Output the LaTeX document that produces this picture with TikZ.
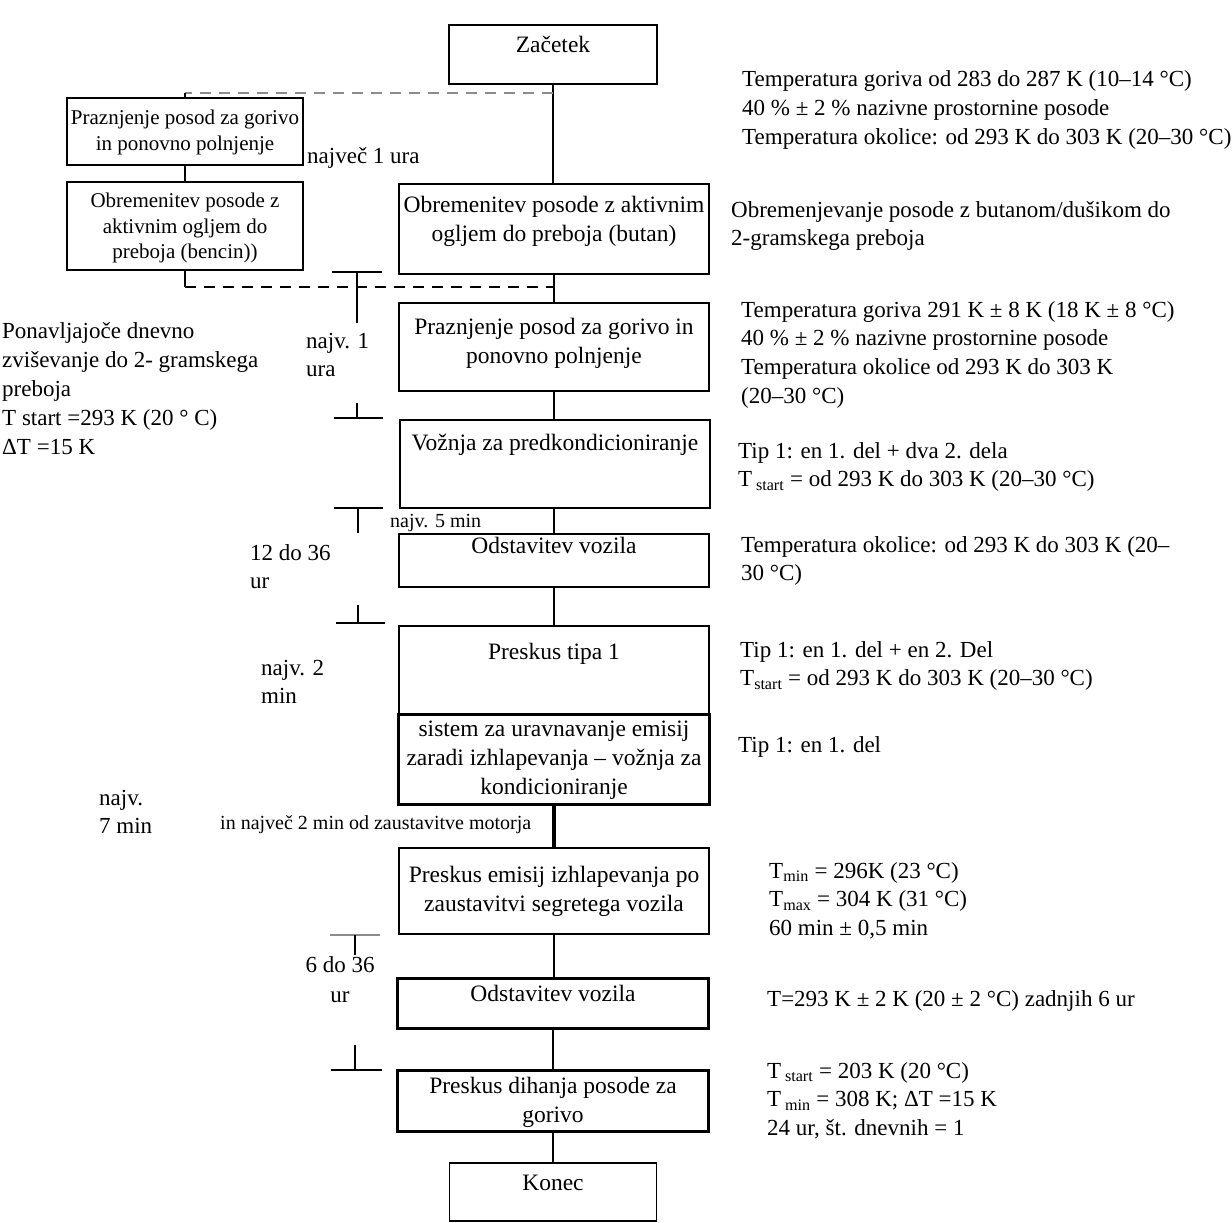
\documentclass[tikz,border=0pt]{standalone}
\usepackage{fontspec}
\setmainfont{Liberation Serif}
\newcommand\lns[2][l]{\begin{tabular}[t]{@{}#1@{}}#2\end{tabular}}
\newcommand\fmain{\fontsize{23.5}{28.5}\selectfont}
\newcommand\fmainb{\fontsize{23.5}{29}\selectfont}
\newcommand\fside{\fontsize{23}{28.7}\selectfont}
\newcommand\fleft{\fontsize{21}{25.5}\selectfont}
\newcommand\fsmall{\fontsize{20}{24}\selectfont}
\newcommand\sbs[1]{\textsubscript{#1}}
\definecolor{dgray}{RGB}{140,140,140}
\tikzset{
  box/.style={draw, line width=1.6pt, inner sep=0pt, anchor=north, font=\fmain},
  thickbox/.style={box, line width=3.4pt},
  conn/.style={line width=1.8pt},
  thickconn/.style={line width=3.6pt},
  txt/.style={inner sep=0pt, anchor=base west, font=\fside},
  dashgray/.style={line width=1.8pt, dgray, dash pattern=on 11pt off 8pt},
  dashblack/.style={line width=2.2pt, dash pattern=on 11pt off 8pt},
}
\begin{document}
\begin{tikzpicture}[x=1pt,y=-1pt]
\useasboundingbox (0,0) rectangle (1232,1223);

% main column boxes
\node[box, minimum width=208pt, text height=28pt, text depth=31pt] (b1) at (553,24) {Začetek};
\node[box, minimum width=310pt, text height=29pt, text depth=61pt] (b4) at (554,183) {\lns[c]{Obremenitev posode z aktivnim\\ogljem do preboja (butan)}};
\node[box, minimum width=310pt, text height=32pt, text depth=56pt] (b5) at (554,302) {\lns[c]{Praznjenje posod za gorivo in\\ponovno polnjenje}};
\node[box, minimum width=310pt, text height=31pt, text depth=57pt] (b6) at (555,419) {Vožnja za predkondicioniranje};
\node[box, minimum width=310pt, text height=20pt, text depth=33pt] (b7) at (554,533) {Odstavitev vozila};
\node[box, minimum width=310pt, text height=34pt, text depth=54pt] (b8) at (554,625) {Preskus tipa 1};
\node[thickbox, font=\fmainb, minimum width=311pt, text height=22pt, text depth=68pt] (b9) at (554,713) {\lns[c]{sistem za uravnavanje emisij\\zaradi izhlapevanja – vožnja za\\kondicioniranje}};
\node[box, minimum width=310pt, text height=35pt, text depth=51pt] (b10) at (554,847) {\lns[c]{Preskus emisij izhlapevanja po\\zaustavitvi segretega vozila}};
\node[thickbox, minimum width=311pt, text height=23pt, text depth=27pt] (b11) at (553,977) {Odstavitev vozila};
\node[thickbox, minimum width=311pt, text height=23pt, text depth=38pt] (b12) at (553,1069) {\lns[c]{Preskus dihanja posode za\\gorivo}};
\node[box, minimum width=207pt, text height=28pt, text depth=30pt] (b13) at (553,1162) {Konec};

% left side boxes
\node[box, font=\fleft, minimum width=236pt, text height=27pt, text depth=40pt] (b2) at (185,97) {\lns[c]{Praznjenje posod za gorivo\\in ponovno polnjenje}};
\node[box, font=\fleft, minimum width=236pt, text height=26pt, text depth=62pt] (b3) at (185,181) {\lns[c]{Obremenitev posode z\\aktivnim ogljem do\\preboja (bencin))}};

% connectors
\draw[conn] (b1.south) -- (b1.south |- b4.north);
\draw[conn] (b4.south) -- (b4.south |- b5.north);
\draw[conn] (b5.south) -- (b5.south |- b6.north);
\draw[conn] (b7.north |- b6.south) -- (b7.north);
\draw[conn] (b7.south) -- (b7.south |- b8.north);
\draw[thickconn] (b9.south) -- (b9.south |- b10.north);
\draw[conn] (b10.south) -- (b10.south |- b11.north);
\draw[conn] (b11.south) -- (b11.south |- b12.north);
\draw[conn] (b12.south) -- (b12.south |- b13.north);
\draw[conn] (b2.south) -- (b3.north);

% dashed side loop
\coordinate (j1) at (553,93);
\coordinate (c2) at (185,93);
\coordinate (c3) at (185,287);
\coordinate (j2) at (554,287);
\draw[dashgray] (j1) -- (c2);
\draw[conn] (c2) -- (b2.north);
\draw[conn] (b3.south) -- (c3);
\draw[dashblack] (c3) -- (j2);

% interval brackets
\draw[conn] (332,272) -- (382,272) (357,272) -- (357,323) (357,403) -- (357,418) (334,418) -- (383,418);
\draw[conn] (334,508) -- (383,508) (358,508) -- (358,533) (358,605) -- (358,623) (336,623) -- (385,623);
\draw[conn, dgray] (330,935) -- (380,935);
\draw[conn] (355,935) -- (355,955) (355,1045) -- (355,1070) (331,1070) -- (382,1070);

% left labels
\node[txt] (l1) at (307,163) {največ 1 ura};
\node[txt] (l2) at (306,348) {\lns{najv. 1\\ura}};
\node[txt, font=\fontsize{23}{29}\selectfont] (l3) at (2,338) {\lns{Ponavljajoče dnevno\\zviševanje do 2- gramskega\\preboja\\T start =293 K (20 ° C)\\ΔT =15 K}};
\node[txt, font=\fsmall] (l4) at (390,527) {najv. 5 min};
\node[txt, font=\fontsize{23}{28}\selectfont] (l5) at (250,560) {\lns{12 do 36\\ur}};
\node[txt, font=\fontsize{23}{28}\selectfont] (l6) at (261,675) {\lns{najv. 2\\min}};
\node[txt, font=\fontsize{23}{28}\selectfont] (l7) at (99,805) {\lns{najv.\\7 min}};
\node[txt, font=\fsmall] (l8) at (220,829) {in največ 2 min od zaustavitve motorja};
\node[txt, anchor=base, font=\fontsize{23}{30}\selectfont] (l9) at (340,972) {\lns[c]{6 do 36\\ur}};

% right labels
\node[txt] (r1) at (742,87) {\lns{Temperatura goriva od 283 do 287 K (10–14 °C)\\40 \% ± 2 \% nazivne prostornine posode\\Temperatura okolice: od 293 K do 303 K (20–30 °C)}};
\node[txt] (r2) at (731,217) {\lns{Obremenjevanje posode z butanom/dušikom do\\2-gramskega preboja}};
\node[txt] (r3) at (741,317) {\lns{Temperatura goriva 291 K ± 8 K (18 K ± 8 °C)\\40 \% ± 2 \% nazivne prostornine posode\\Temperatura okolice od 293 K do 303 K\\(20–30 °C)}};
\node[txt] (r4) at (738,458) {\lns{Tip 1: en 1. del + dva 2. dela\\T\,\sbs{start} = od 293 K do 303 K (20–30 °C)}};
\node[txt] (r5) at (741,552) {\lns{Temperatura okolice: od 293 K do 303 K (20–\\30 °C)}};
\node[txt] (r6) at (740,657) {\lns{Tip 1: en 1. del + en 2. Del\\T\sbs{start} = od 293 K do 303 K (20–30 °C)}};
\node[txt] (r7) at (738,752) {Tip 1: en 1. del};
\node[txt] (r8) at (769,878) {\lns{T\sbs{min} = 296K (23 °C)\\T\sbs{max} = 304 K (31 °C)\\60 min ± 0,5 min}};
\node[txt] (r9) at (767,1006) {T=293 K ± 2 K (20 ± 2 °C) zadnjih 6 ur};
\node[txt] (r10) at (767,1078) {\lns{T\,\sbs{start} = 203 K (20 °C)\\T\,\sbs{min} = 308 K; ΔT =15 K\\24 ur, št. dnevnih = 1}};
\end{tikzpicture}
\end{document}
